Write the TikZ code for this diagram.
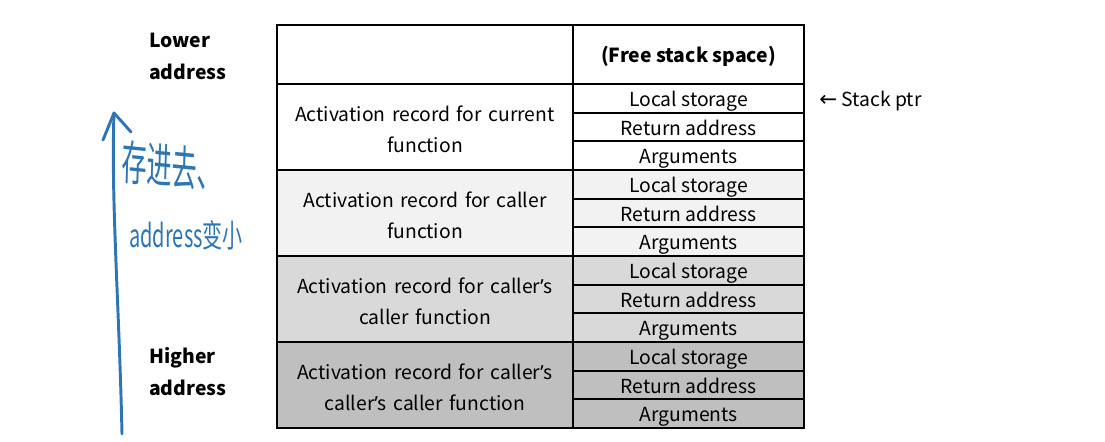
\documentclass[tikz,border=0pt]{standalone}
\usepackage{fontspec}
\setmainfont{Noto Sans CJK SC}
\newfontfamily\arrowfont{DejaVu Sans}
\newfontfamily\quotefont{Noto Sans}
\newcommand{\apos}{{\quotefont ’}}
\usetikzlibrary{positioning}
\definecolor{handblue}{RGB}{46,117,182}

\begin{document}
\begin{tikzpicture}[x=0.75pt, y=-0.75pt, node distance=0pt,
  every node/.style={font=\fontsize{14.5}{23}\selectfont},
  rec/.style={draw=black, line width=1.5pt, outer sep=0pt, minimum width=222pt, minimum height=64.5pt, inner sep=0pt, text width=215pt, align=center},
  slot/.style={draw=black, line width=1.5pt, outer sep=0pt, minimum width=173.25pt, minimum height=21.5pt, inner sep=0pt, text height=14.5pt, text depth=2.3pt},
  side/.style={align=left, anchor=west, inner sep=0pt, font=\fontsize{14.5}{24}\selectfont\bfseries},
  hand/.style={draw=handblue, line width=2.2pt, line cap=round, line join=round},
  handtext/.style={text=handblue, inner sep=0pt}]

  \useasboundingbox (0,0) rectangle (1105,442);

  % header row
  \node [rec, minimum height=44.25pt, anchor=north west] (top) at (277,25) {};
  \node [slot, minimum height=44.25pt, right=of top, font=\fontsize{14.5}{23}\selectfont\bfseries] (free) {(Free stack space)};

  % current function
  \node [rec, below=of top] (cur) {\rule{0pt}{15pt}Activation record for current\\function};
  \node [slot, below=of free] (curlocal) {Local storage};
  \node [slot, below=of curlocal] (curret) {Return address};
  \node [slot, below=of curret] (curargs) {Arguments};

  % caller
  \node [rec, fill=black!5, below=of cur] (caller) {\rule{0pt}{15pt}Activation record for caller\\function};
  \node [slot, fill=black!5, below=of curargs] (callerlocal) {Local storage};
  \node [slot, fill=black!5, below=of callerlocal] (callerret) {Return address};
  \node [slot, fill=black!5, below=of callerret] (callerargs) {Arguments};

  % caller's caller
  \node [rec, fill=black!15, below=of caller] (caller2) {\rule{0pt}{15pt}Activation record for caller\apos s\\caller function};
  \node [slot, fill=black!15, below=of callerargs] (caller2local) {Local storage};
  \node [slot, fill=black!15, below=of caller2local] (caller2ret) {Return address};
  \node [slot, fill=black!15, below=of caller2ret] (caller2args) {Arguments};

  % caller's caller's caller
  \node [rec, fill=black!25, below=of caller2] (caller3) {\rule{0pt}{15pt}Activation record for caller\apos s\\caller\apos s caller function};
  \node [slot, fill=black!25, below=of caller2args] (caller3local) {Local storage};
  \node [slot, fill=black!25, below=of caller3local] (caller3ret) {Return address};
  \node [slot, fill=black!25, below=of caller3ret] (caller3args) {Arguments};

  \node [right=8pt of curlocal, text height=14.5pt, text depth=2.3pt] (sp) {{\arrowfont\fontsize{16}{16}\selectfont ←} Stack ptr};

  \node [side] (low) at (149,56) {Lower\\address};
  \node [side] (high) at (149,372) {Higher\\address};

  % handwritten note
  \coordinate (tail) at (122,434);
  \coordinate (tip) at (114,113);
  \draw [hand] (tail) .. controls (119,300) and (111,200) .. (tip);
  \draw [hand] (tip) ++(-11,27) -- (tip) -- ++(17,19);
  \node [handtext, font=\fontsize{21}{21}\selectfont, xscale=0.9, yscale=1.7, rotate=-3] (note1) at (172,166) {存进去、};
  \node [handtext, font=\fontsize{15}{15}\selectfont, yscale=1.6] (note2) at (186,235) {address变小};
\end{tikzpicture}
\end{document}
